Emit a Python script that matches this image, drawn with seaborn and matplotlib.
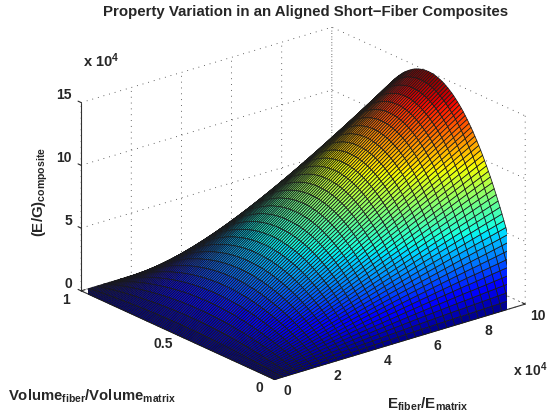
import numpy as np
import seaborn as sns
import matplotlib.pyplot as plt

# mesh positions of the surface, E in units of 10^4
modulus_ratio = [0.0, 0.3125, 0.625, 0.9375, 1.25, 1.5625, 1.875, 2.1875, 2.5, 2.8125, 3.125,
                 3.4375, 3.75, 4.0625, 4.375, 4.6875, 5.0, 5.3125, 5.625, 5.9375, 6.25,
                 6.5625, 6.875, 7.1875, 7.5, 7.8125, 8.125, 8.4375, 8.75, 9.0625, 9.375, 9.6875, 10.0]
volume_ratio = [0.00, 0.01, 0.02, 0.03, 0.04, 0.05, 0.06, 0.07, 0.08, 0.09,
                0.10, 0.11, 0.12, 0.13, 0.14, 0.15, 0.16, 0.17, 0.18, 0.19,
                0.20, 0.21, 0.22, 0.23, 0.24, 0.25, 0.26, 0.27, 0.28, 0.29,
                0.30, 0.31, 0.32, 0.33, 0.34, 0.35, 0.36, 0.37, 0.38, 0.39,
                0.40, 0.41, 0.42, 0.43, 0.44, 0.45, 0.46, 0.47, 0.48, 0.49,
                0.50, 0.51, 0.52, 0.53, 0.54, 0.55, 0.56, 0.57, 0.58, 0.59,
                0.60, 0.61, 0.62, 0.63, 0.64, 0.65, 0.66, 0.67, 0.68, 0.69,
                0.70, 0.71, 0.72, 0.73, 0.74, 0.75, 0.76, 0.77, 0.78, 0.79,
                0.80, 0.81, 0.82, 0.83, 0.84, 0.85, 0.86, 0.87, 0.88, 0.89,
                0.90, 0.91, 0.92, 0.93, 0.94, 0.95, 0.96, 0.97, 0.98, 0.99, 1.00]

# height of the surface along its E=10 edge (units 10^4)
edge_height = [0.00, 0.59, 1.18, 1.75, 2.30, 2.85, 3.38, 3.91, 4.42, 4.91,
               5.40, 5.87, 6.34, 6.79, 7.22, 7.65, 8.06, 8.47, 8.86, 9.23,
               9.60, 9.95, 10.30, 10.63, 10.94, 11.25, 11.54, 11.83, 12.10, 12.35,
               12.60, 12.83, 13.06, 13.27, 13.46, 13.65, 13.82, 13.99, 14.14, 14.27,
               14.40, 14.51, 14.62, 14.71, 14.78, 14.85, 14.90, 14.95, 14.98, 14.99,
               15.00, 14.99, 14.98, 14.95, 14.90, 14.85, 14.78, 14.71, 14.62, 14.51,
               14.40, 14.27, 14.14, 13.99, 13.82, 13.65, 13.46, 13.27, 13.06, 12.83,
               12.60, 12.35, 12.10, 11.83, 11.54, 11.25, 10.94, 10.63, 10.30, 9.95,
               9.60, 9.23, 8.86, 8.47, 8.06, 7.65, 7.22, 6.79, 6.34, 5.87,
               5.40, 4.91, 4.42, 3.91, 3.38, 2.85, 2.30, 1.75, 1.18, 0.59, 0.00]
# share of that height reached at each mesh E, estimated along the ridge
ridge_share = [0.0, 0.03125, 0.0625, 0.09375, 0.125, 0.15625, 0.1875, 0.21875, 0.25, 0.28125, 0.3125,
               0.34375, 0.375, 0.40625, 0.4375, 0.46875, 0.5, 0.53125, 0.5625, 0.59375, 0.625,
               0.65625, 0.6875, 0.71875, 0.75, 0.78125, 0.8125, 0.84375, 0.875, 0.90625, 0.9375, 0.96875, 1.0]

x_ticks = [0, 2, 4, 6, 8, 10]
y_ticks = [0, 0.5, 1]
z_ticks = [0, 5, 10, 15]

sns.set_style('white')
plt.rcParams['font.family'] = ['Liberation Sans', 'DejaVu Sans']
plt.rcParams['font.weight'] = 'bold'
plt.rcParams['mathtext.fontset'] = 'custom'
plt.rcParams['mathtext.rm'] = 'Liberation Sans:bold'
plt.rcParams['mathtext.bf'] = 'Liberation Sans:bold'
plt.rcParams['mathtext.default'] = 'rm'
plt.rcParams['grid.color'] = '#333333'
plt.rcParams['grid.linewidth'] = 0.6
plt.rcParams['grid.linestyle'] = (0, (1, 6))

text_color = '#262626'

X, Y = np.meshgrid(modulus_ratio, volume_ratio)
Z = np.outer(edge_height, ridge_share)

fig = plt.figure(figsize=(5.49, 4.19), dpi=100)
ax = fig.add_axes([23 / 549, 0.5 / 419, 1, 1], projection='3d', proj_type='ortho')
ax.view_init(elev=21.8, azim=-129)
ax.set_box_aspect((1.05, 1, 0.66), zoom=1.134)

ax.plot_surface(X, Y, Z, rstride=1, cstride=1,
                cmap=plt.get_cmap('jet'), vmin=0, vmax=15,
                edgecolor='#1a1a1a', linewidth=0.55, antialiased=True)

ax.set_xlim(0, 10, view_margin=0)
ax.set_ylim(0, 1, view_margin=0)
ax.set_zlim(0, 15, view_margin=0)
ax.set_xticks(x_ticks)
ax.set_yticks(y_ticks)
ax.set_zticks(z_ticks)
ax.set_yticklabels(['0', '0.5', '1'])

for axis in (ax.xaxis, ax.yaxis, ax.zaxis):
    axis.pane.fill = False
    axis.pane.set_edgecolor('none')
    axis.line.set_color('#333333')
    axis.line.set_linewidth(0.8)
    axis._axinfo['tick']['inward_factor'] = 0.0
    axis._axinfo['tick']['outward_factor'] = 0.2
# z ticks point along the volume axis in the reference
ax.zaxis._get_tickdir = lambda position: 1
ax.tick_params(labelsize=10, colors=text_color)
ax.tick_params(axis='x', pad=2.5)
ax.tick_params(axis='y', pad=1.4)
ax.tick_params(axis='z', pad=-4.8)
for label in ax.get_xticklabels() + ax.get_yticklabels():
    label.set_va('bottom')
for label in ax.get_zticklabels():
    label.set_ha('right')
    label.set_va('bottom')

fig.text(0.5565, 0.971, 'Property Variation in an Aligned Short\u2212Fiber Composites',
         ha='center', va='center', fontsize=10.8, fontweight='bold', color=text_color)
fig.text(0.151, 0.84, r'x 10$^{4}$', fontsize=10.5, color=text_color)
fig.text(0.934, 0.103, r'x 10$^{4}$', fontsize=10, color=text_color)
fig.text(0.073, 0.542, r'(E/G)$_{composite}$', rotation=90, ha='center', va='center',
         fontsize=10.8, color=text_color)
fig.text(0.167, 0.053, r'Volume$_{fiber}$/Volume$_{matrix}$', ha='center', va='center',
         fontsize=10.7, color=text_color)
fig.text(0.78, 0.035, r'E$_{fiber}$/E$_{matrix}$', ha='center', va='center',
         fontsize=10.9, color=text_color)

fig.savefig('out.png', dpi=100)
